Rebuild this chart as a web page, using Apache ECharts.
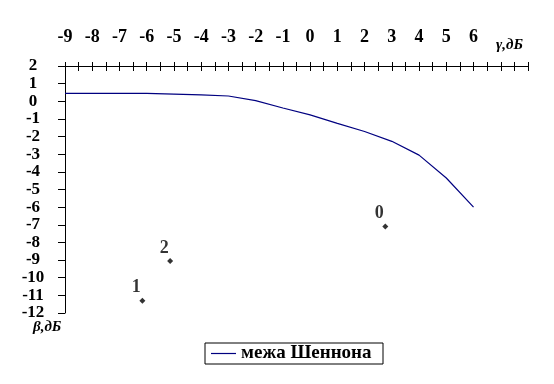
<!DOCTYPE html>
<html>
<head>
<meta charset="utf-8">
<script src="https://cdn.jsdelivr.net/npm/echarts@6/dist/echarts.min.js"></script>
<style>
html,body{margin:0;padding:0;background:#fff;}
#chart{width:554px;height:384px;}
</style>
</head>
<body>
<div id="chart"></div>
<script>
// ---- data ----
const gammaValues = [-9, -8, -7, -6, -5, -4, -3, -2, -1, 0, 1, 2, 3, 4, 5, 6];
const shannonBeta = [0.45, 0.45, 0.45, 0.45, 0.41, 0.36, 0.30, 0.04, -0.38, -0.77, -1.25, -1.71, -2.27, -3.05, -4.35, -6.0];
const pointGamma = [2.76, -5.14, -6.16];
const pointBeta = [-7.1, -9.05, -11.3];
const pointNames = ['0', '2', '1'];
const seriesName = 'межа Шеннона';
const xTitle = 'γ,дБ';
const yTitle = 'β,дБ';
const xMin = -9, xMax = 8, xLabelMax = 6;
const yMin = -12, yMax = 2;

const FONT = '"Liberation Serif", "Times New Roman", serif';
const chart = echarts.init(document.getElementById('chart'), null, {renderer: 'canvas'});

// measure legend text to size the legend box like the reference
const LEGEND_FS = 19;
const ctx = document.createElement('canvas').getContext('2d');
ctx.font = 'bold ' + LEGEND_FS + 'px ' + FONT;
const legendTextW = ctx.measureText(seriesName).width;
const legendBoxW = 178;
const padRight = Math.max(4, legendBoxW - 6 - 25 - 5 - legendTextW);

const lineData = gammaValues.map((g, i) => [g, shannonBeta[i]]);
const pointData = pointGamma.map((g, i) => ({value: [g, pointBeta[i]], name: pointNames[i]}));

const labelStyle = {color: '#000', fontFamily: FONT, fontWeight: 'bold', fontSize: 18};

chart.setOption({
  backgroundColor: '#fff',
  animation: false,
  grid: {left: 65, right: 26, top: 66, bottom: 71, containLabel: false},
  legend: {
    left: 205, top: 343,
    padding: [1, padRight, 1, 6],
    borderColor: '#000', borderWidth: 1,
    itemWidth: 25, itemHeight: 1.2, itemGap: 5,
    icon: 'rect',
    data: [{name: seriesName, icon: 'rect'}],
    textStyle: {color: '#000', fontFamily: FONT, fontWeight: 'bold', fontSize: LEGEND_FS}
  },
  xAxis: [{
    type: 'value', position: 'top', min: xMin, max: xMax, interval: 0.5,
    axisLine: {show: true, onZero: false, lineStyle: {color: '#000', width: 1}},
    axisTick: {show: true, inside: false, length: 4, lineStyle: {color: '#000'}},
    splitLine: {show: false},
    axisLabel: Object.assign({
      margin: 29, verticalAlign: 'middle',
      formatter: function (v) {
        if (Math.abs(v - Math.round(v)) > 1e-6 || v > xLabelMax) return '';
        return String(Math.round(v));
      }
    }, labelStyle)
  }, {
    type: 'value', position: 'top', min: xMin, max: xMax, interval: 0.5,
    axisLine: {show: false, onZero: false},
    axisTick: {show: true, inside: true, length: 5, lineStyle: {color: '#000'}},
    splitLine: {show: false},
    axisLabel: {show: false}
  }],
  yAxis: {
    type: 'value', min: yMin, max: yMax, interval: 1,
    axisLine: {show: true, onZero: false, lineStyle: {color: '#000', width: 1}},
    axisTick: {show: true, inside: false, length: 7, lineStyle: {color: '#000'}},
    splitLine: {show: false},
    axisLabel: Object.assign({margin: 32, align: 'center', showMinLabel: true, showMaxLabel: true, hideOverlap: false}, labelStyle, {fontSize: 17})
  },
  graphic: [
    {type: 'text', left: 496, top: 38, style: {text: xTitle, fill: '#000', font: 'italic bold 15px ' + FONT}},
    {type: 'text', left: 33, top: 320, style: {text: yTitle, fill: '#000', font: 'italic bold 15px ' + FONT}}
  ],
  series: [{
    name: seriesName, type: 'line', data: lineData,
    symbol: 'none', showSymbol: false, smooth: false,
    lineStyle: {color: '#000080', width: 1.2},
    itemStyle: {color: '#000080'}
  }, {
    name: 'points', type: 'scatter', data: pointData,
    symbol: 'diamond', symbolSize: 6,
    itemStyle: {color: '#000'},
    label: Object.assign({
      show: true, position: 'inside', offset: [-6, -13],
      formatter: p => p.name
    }, labelStyle, {fontSize: 18})
  }]
});
</script>
</body>
</html>
